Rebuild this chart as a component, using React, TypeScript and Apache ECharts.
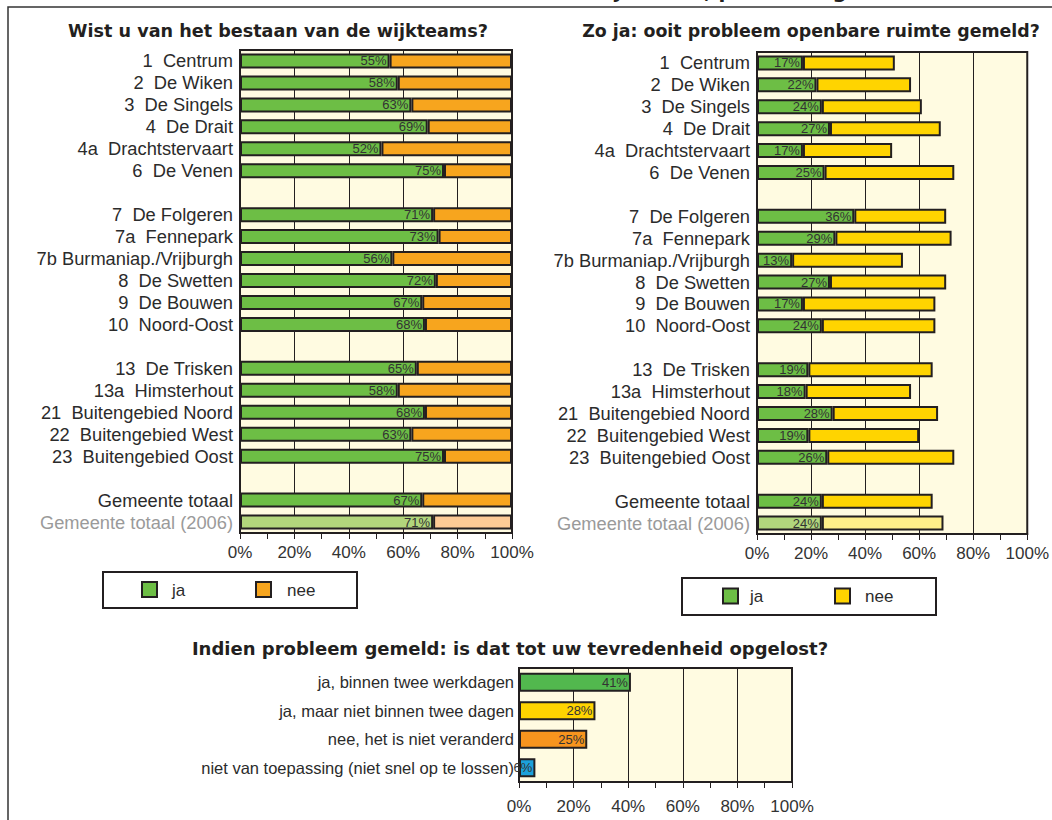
import React, { useEffect, useRef } from "react";
import * as echarts from "echarts";

// ---------- data ----------
const districts: string[] = [
  "1  Centrum",
  "2  De Wiken",
  "3  De Singels",
  "4  De Drait",
  "4a  Drachtstervaart",
  "6  De Venen",
  "",
  "7  De Folgeren",
  "7a  Fennepark",
  "7b Burmaniap./Vrijburgh",
  "8  De Swetten",
  "9  De Bouwen",
  "10  Noord-Oost",
  "",
  "13  De Trisken",
  "13a  Himsterhout",
  "21  Buitengebied Noord",
  "22  Buitengebied West",
  "23  Buitengebied Oost",
  "",
  "Gemeente totaal",
  "Gemeente totaal (2006)",
];

// Wist u van het bestaan van de wijkteams?
const knowJa: (number | null)[] = [55, 58, 63, 69, 52, 75, null, 71, 73, 56, 72, 67, 68, null, 65, 58, 68, 63, 75, null, 67, 71];
const knowNee: (number | null)[] = [45, 42, 37, 31, 48, 25, null, 29, 27, 44, 28, 33, 32, null, 35, 42, 32, 37, 25, null, 33, 29];

// Zo ja: ooit probleem openbare ruimte gemeld?
const reportJa: (number | null)[] = [17, 22, 24, 27, 17, 25, null, 36, 29, 13, 27, 17, 24, null, 19, 18, 28, 19, 26, null, 24, 24];
const reportNee: (number | null)[] = [34, 35, 37, 41, 33, 48, null, 34, 43, 41, 43, 49, 42, null, 46, 39, 39, 41, 47, null, 41, 45];

// Indien probleem gemeld: is dat tot uw tevredenheid opgelost?
const solvedCats: string[] = [
  "ja, binnen twee werkdagen",
  "ja, maar niet binnen twee dagen",
  "nee, het is niet veranderd",
  "niet van toepassing (niet snel op te lossen)",
];
const solvedValues: number[] = [41, 28, 25, 6];

const pctTicks: number[] = [0, 20, 40, 60, 80, 100];

const titleLeft = "Wist u van het bestaan van de wijkteams?";
const titleRight = "Zo ja: ooit probleem openbare ruimte gemeld?";
const titleBottom = "Indien probleem gemeld: is dat tot uw tevredenheid opgelost?";
const titleTop = "Bekendheid wijkteams, probleem gemeld";

// ---------- styles ----------
const DARK = "#231F20";
const CREAM = "#FFFBE1";
const GREEN = "#6DBE45";
const GREEN_LIGHT = "#B2D67C";
const ORANGE = "#F7A51E";
const ORANGE_LIGHT = "#FDCB96";
const YELLOW = "#FFD400";
const YELLOW_LIGHT = "#FFEF8A";
const solvedColors = ["#52B84E", "#FFD400", "#F7941E", "#1BA1DB"];
const FONT = "'Liberation Sans', Arial, sans-serif";
const TFONT = "'DejaVu Sans', 'Liberation Sans', sans-serif";

const LAST = districts.length - 1;

function withLast(arr: (number | null)[], color: string) {
  return arr.map((v, i) => (i === LAST && v !== null ? { value: v, itemStyle: { color } } : v));
}

function xAxisFor(gridIndex: number, margin: number) {
  return {
    type: "value",
    gridIndex,
    min: 0,
    max: 100,
    interval: 20,
    axisLine: { show: true, lineStyle: { color: DARK, width: 2 } },
    axisTick: { show: true, length: 6, lineStyle: { color: DARK, width: 1 } },
    minorTick: { show: true, splitNumber: 2, length: 6, lineStyle: { color: DARK, width: 1 } },
    splitLine: { show: true, lineStyle: { color: DARK, width: 1 } },
    axisLabel: {
      formatter: (v: number) => (pctTicks.includes(v) ? v + "%" : ""),
      fontFamily: FONT,
      fontSize: 17,
      color: "#333",
      margin,
    },
  };
}

function yAxisFor(gridIndex: number, data: string[], fontSize: number, margin: number) {
  return {
    type: "category",
    gridIndex,
    data,
    inverse: true,
    axisLine: { show: false },
    axisTick: { show: false },
    splitLine: { show: false },
    axisLabel: {
      interval: 0,
      fontFamily: FONT,
      fontSize,
      margin,
      color: (value: string) => (value === "Gemeente totaal (2006)" ? "#9a9a9a" : "#2b2b2b"),
    },
  };
}

const valLabel = {
  show: true,
  position: "insideRight",
  distance: 3,
  formatter: "{c}%",
  fontFamily: FONT,
  fontSize: 13,
  color: "#333",
};

function legendBox(x: number, y: number, w: number, h: number, items: { color: string; name: string; sx: number; tx: number }[]) {
  const children: any[] = [
    { type: "rect", shape: { x, y, width: w, height: h }, style: { fill: "#fff", stroke: DARK, lineWidth: 2 } },
  ];
  items.forEach((it) => {
    children.push({
      type: "rect",
      shape: { x: it.sx, y: y + h / 2 - 8, width: 15, height: 15 },
      style: { fill: it.color, stroke: DARK, lineWidth: 2 },
    });
    children.push({
      type: "text",
      x: it.tx,
      y: y + h / 2,
      style: { text: it.name, fontFamily: FONT, fontSize: 17, fill: "#2b2b2b", verticalAlign: "middle", align: "left" },
    });
  });
  return { type: "group", children };
}

export default function App() {
  const ref = useRef<HTMLDivElement>(null);

  useEffect(() => {
    if (!ref.current) return;
    const chart = echarts.init(ref.current, undefined, { renderer: "svg" });

    const barBorder = { borderColor: DARK, borderWidth: 2 };

    const option: any = {
      animation: false,
      backgroundColor: "#ffffff",
      grid: [
        { left: 240, top: 50, width: 272, height: 483, show: true, backgroundColor: CREAM, borderColor: DARK, borderWidth: 2 },
        { left: 757, top: 52, width: 273, height: 482, show: true, backgroundColor: CREAM, borderColor: DARK, borderWidth: 2 },
        { left: 519, top: 668, width: 273, height: 114, show: true, backgroundColor: CREAM, borderColor: DARK, borderWidth: 2 },
      ],
      xAxis: [xAxisFor(0, 11), xAxisFor(1, 11), xAxisFor(2, 16)],
      yAxis: [
        yAxisFor(0, districts, 18.3, 7),
        yAxisFor(1, districts, 18.3, 7),
        yAxisFor(2, solvedCats, 16.5, 5),
      ],
      series: [
        {
          name: "ja",
          type: "bar",
          stack: "know",
          xAxisIndex: 0,
          yAxisIndex: 0,
          barWidth: 15,
          itemStyle: { color: GREEN, ...barBorder },
          label: valLabel,
          data: withLast(knowJa, GREEN_LIGHT),
        },
        {
          name: "nee",
          type: "bar",
          stack: "know",
          xAxisIndex: 0,
          yAxisIndex: 0,
          barWidth: 15,
          itemStyle: { color: ORANGE, ...barBorder },
          data: withLast(knowNee, ORANGE_LIGHT),
        },
        {
          name: "ja ",
          type: "bar",
          stack: "report",
          xAxisIndex: 1,
          yAxisIndex: 1,
          barWidth: 15,
          itemStyle: { color: GREEN, ...barBorder },
          label: valLabel,
          data: withLast(reportJa, GREEN_LIGHT),
        },
        {
          name: "nee ",
          type: "bar",
          stack: "report",
          xAxisIndex: 1,
          yAxisIndex: 1,
          barWidth: 15,
          itemStyle: { color: YELLOW, ...barBorder },
          data: withLast(reportNee, YELLOW_LIGHT),
        },
        {
          name: "opgelost",
          type: "bar",
          xAxisIndex: 2,
          yAxisIndex: 2,
          barWidth: 19,
          itemStyle: { ...barBorder },
          label: valLabel,
          data: solvedValues.map((v, i) => ({ value: v, itemStyle: { color: solvedColors[i] } })),
        },
      ],
      graphic: [
        {
          type: "rect",
          shape: { x: 8, y: 7, width: 1200, height: 1000 },
          style: { fill: "none", stroke: "#333", lineWidth: 1.5 },
          z: 100,
        },
        {
          type: "text",
          x: 916,
          y: 0.5,
          style: { text: titleTop, fontFamily: TFONT, fontWeight: "bold", fontSize: 20, fill: DARK, align: "right", verticalAlign: "bottom" },
        },
        {
          type: "text",
          x: 278,
          y: 31,
          style: { text: titleLeft, fontFamily: TFONT, fontWeight: "bold", fontSize: 17.6, fill: DARK, align: "center", verticalAlign: "middle" },
        },
        {
          type: "text",
          x: 811,
          y: 31,
          style: { text: titleRight, fontFamily: TFONT, fontWeight: "bold", fontSize: 17.4, fill: DARK, align: "center", verticalAlign: "middle" },
        },
        {
          type: "text",
          x: 510,
          y: 648,
          style: { text: titleBottom, fontFamily: TFONT, fontWeight: "bold", fontSize: 18, fill: DARK, align: "center", verticalAlign: "middle" },
        },
        legendBox(103, 572, 254, 36, [
          { color: GREEN, name: "ja", sx: 142, tx: 172 },
          { color: ORANGE, name: "nee", sx: 256, tx: 287 },
        ]),
        legendBox(682, 578, 254, 37, [
          { color: GREEN, name: "ja", sx: 723, tx: 750 },
          { color: YELLOW, name: "nee", sx: 835, tx: 865 },
        ]),
      ],
    };

    chart.setOption(option);
    return () => chart.dispose();
  }, []);

  return <div ref={ref} style={{ position: "fixed", left: 0, top: 0, width: 1052, height: 820 }} />;
}
